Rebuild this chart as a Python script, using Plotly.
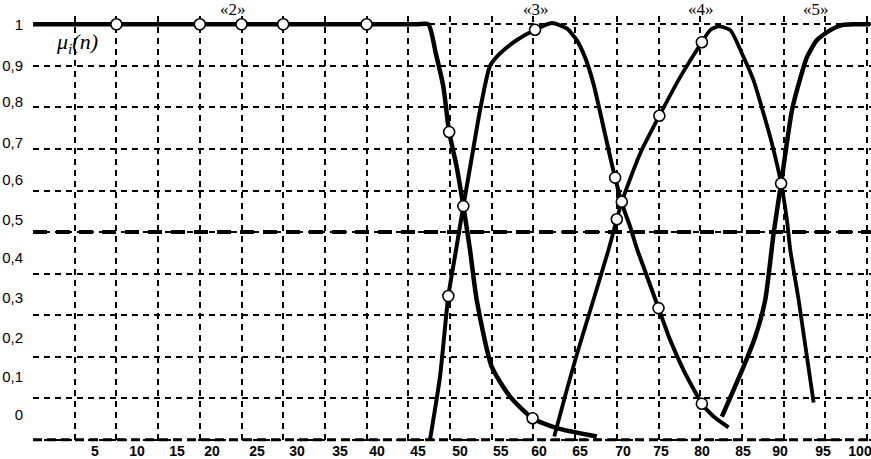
import plotly.graph_objects as go

# ---------------- data ----------------
# class «2» membership curve
x_c2 = [0, 10, 20, 30, 40, 46.0, 47.4, 48.3, 49.2, 49.9, 50.8, 51.6, 52.4, 53.2, 55.0, 57.2, 59.9, 62.8, 67.6]
y_c2 = [1.0, 1.0, 1.0, 1.0, 1.0, 1.0, 1.0, 0.93, 0.85, 0.741, 0.657, 0.5625, 0.457, 0.337, 0.176, 0.104, 0.052, 0.028, 0.008]
# class «3»
x_c3 = [47.6, 48.8, 49.8, 50.7, 51.6, 52.6, 53.6, 54.8, 56.0, 58.0, 60.2, 62.2, 64.0, 65.2, 66.2,
        67.2, 68.4, 69.2, 69.8, 70.6, 71.6, 72.4, 73.7, 75.0, 76.4, 78.0, 79.6, 80.2, 81.6, 83.4]
y_c3 = [0.0, 0.152, 0.346, 0.454, 0.5625, 0.678, 0.793, 0.90, 0.93, 0.962, 0.987, 1.003, 0.99, 0.962, 0.92,
        0.857, 0.753, 0.681, 0.631, 0.569, 0.513, 0.461, 0.389, 0.317, 0.24, 0.168, 0.108, 0.087, 0.056, 0.03]
# class «4»
x_c4 = [62.5, 64.0, 65.2, 67.2, 69.0, 70.0, 70.6, 72.8, 75.1, 77.6, 80.2, 81.2, 82.2, 83.6, 85.2,
        86.4, 87.6, 88.6, 89.7, 90.4, 90.8, 91.8, 93.6]
y_c4 = [0.008, 0.120, 0.205, 0.337, 0.457, 0.531, 0.573, 0.689, 0.78, 0.873, 0.957, 0.986, 0.995, 0.986, 0.921,
        0.865, 0.785, 0.713, 0.617, 0.529, 0.457, 0.337, 0.09]
# class «5»
x_c5 = [82.6, 84.0, 85.2, 86.6, 87.8, 88.8, 89.7, 91.0, 92.0, 92.8, 94.0, 95.6, 97.0, 98.5, 100.4]
y_c5 = [0.056, 0.12, 0.176, 0.248, 0.337, 0.497, 0.617, 0.793, 0.87, 0.921, 0.962, 0.986, 0.998, 1.0, 1.0]

# marked points (circles)
x_m2 = [10, 20, 25, 30, 40, 49.9, 51.6, 59.9]
y_m2 = [1, 1, 1, 1, 1, 0.741, 0.5625, 0.052]
x_m3 = [49.8, 60.2, 69.8, 75.0, 80.2]
y_m3 = [0.346, 0.987, 0.631, 0.317, 0.087]
x_m4 = [70.0, 70.6, 75.1, 80.2, 89.7]
y_m4 = [0.531, 0.573, 0.78, 0.957, 0.617]

threshold = 0.5

class_labels = ["«2»", "«3»", "«4»", "«5»"]
class_label_x = [24, 60.3, 80.1, 93.9]

x_ticks = list(range(0, 101, 5))
x_tick_text = [str(v) for v in range(5, 101, 5)]
y_ticks = [round(i * 0.1, 1) for i in range(11)]
y_tick_text = ["1", "0,9", "0,8", "0,7", "0,6", "0,5", "0,4", "0,3", "0,2", "0,1", "0"]

# label placement (as printed in the original figure, slightly offset from grid)
x_label_pos = [7.43, 12.47, 17.27, 21.46, 26.86, 31.65, 36.81, 41.25, 46.16, 51.2,
               56.1, 60.67, 65.59, 70.74, 75.3, 80.22, 85.13, 89.57, 94.72, 99.16]
y_label_pos = [1.0, 0.901, 0.8125, 0.716, 0.625, 0.529, 0.4375, 0.341, 0.245, 0.151, 0.06]

XR = [0, 100.48]
YR = [-0.01, 1.02]

fig = go.Figure()

for xs, ys, w in [(x_c2, y_c2, 4.5), (x_c3, y_c3, 4), (x_c4, y_c4, 3.8), (x_c5, y_c5, 4.5)]:
    fig.add_trace(go.Scatter(x=xs, y=ys, mode="lines",
                             line=dict(color="black", width=w, shape="spline", smoothing=0.6),
                             hoverinfo="skip", showlegend=False))

for xs, ys in [(x_m2, y_m2), (x_m3, y_m3), (x_m4, y_m4)]:
    fig.add_trace(go.Scatter(x=xs, y=ys, mode="markers",
                             marker=dict(size=11, color="white", line=dict(color="black", width=1.6)),
                             hoverinfo="skip", showlegend=False))

# empty trace to carry the label axes
fig.add_trace(go.Scatter(x=[None], y=[None], xaxis="x2", yaxis="y2", showlegend=False, hoverinfo="skip"))

grid = dict(showgrid=True, gridcolor="black", gridwidth=2, griddash="6px,5px",
            zeroline=False, showline=False, ticks="", showticklabels=False)

fig.update_layout(
    width=871, height=459,
    margin=dict(l=33, r=0, t=16, b=15),
    paper_bgcolor="white", plot_bgcolor="white",
    showlegend=False,
    xaxis=dict(range=XR, tickmode="array", tickvals=x_ticks, **grid),
    yaxis=dict(range=YR, tickmode="array", tickvals=y_ticks, **grid),
    xaxis2=dict(range=XR, overlaying="x", anchor="y", side="bottom",
                tickmode="array", tickvals=x_label_pos, ticktext=x_tick_text,
                showgrid=False, zeroline=False, showline=False, ticks="",
                tickfont=dict(family="Liberation Sans, Arial", size=14, color="black", weight="bold"),
                ticklabelstandoff=-3, ticklabeloverflow="allow"),
    yaxis2=dict(range=YR, overlaying="y", anchor="x", side="left",
                tickmode="array", tickvals=y_label_pos, ticktext=y_tick_text,
                showgrid=False, zeroline=False, showline=False, ticks="",
                tickfont=dict(family="Liberation Sans, Arial", size=15, color="black"),
                ticklabelstandoff=9, ticklabeloverflow="allow"),
    shapes=[
        dict(type="line", xref="x", yref="y", x0=XR[0], x1=XR[1], y0=threshold, y1=threshold,
             line=dict(color="black", width=4, dash="14px,9px"), layer="between"),
        dict(type="line", xref="x", yref="y", x0=XR[0], x1=XR[1], y0=0, y1=0,
             line=dict(color="black", width=3, dash="9px,5px"), layer="between"),
    ],
)

for txt, xv in zip(class_labels, class_label_x):
    fig.add_annotation(x=xv, y=1.016, xref="x", yref="paper", text=txt, showarrow=False,
                       yanchor="middle",
                       font=dict(family="Liberation Serif, Times New Roman", size=17, color="black"))

fig.add_annotation(x=5.3, y=0.954, xref="x", yref="y",
                   text="<i>μ<sub>i</sub>(n)</i>", showarrow=False,
                   font=dict(family="Liberation Serif, Times New Roman", size=22, color="black"))

fig.write_html(
    "out.html",
    config={"displayModeBar": False, "staticPlot": True},
    post_script="document.body.style.margin='0';document.body.style.padding='0';"
                "document.documentElement.style.overflow='hidden';",
)
